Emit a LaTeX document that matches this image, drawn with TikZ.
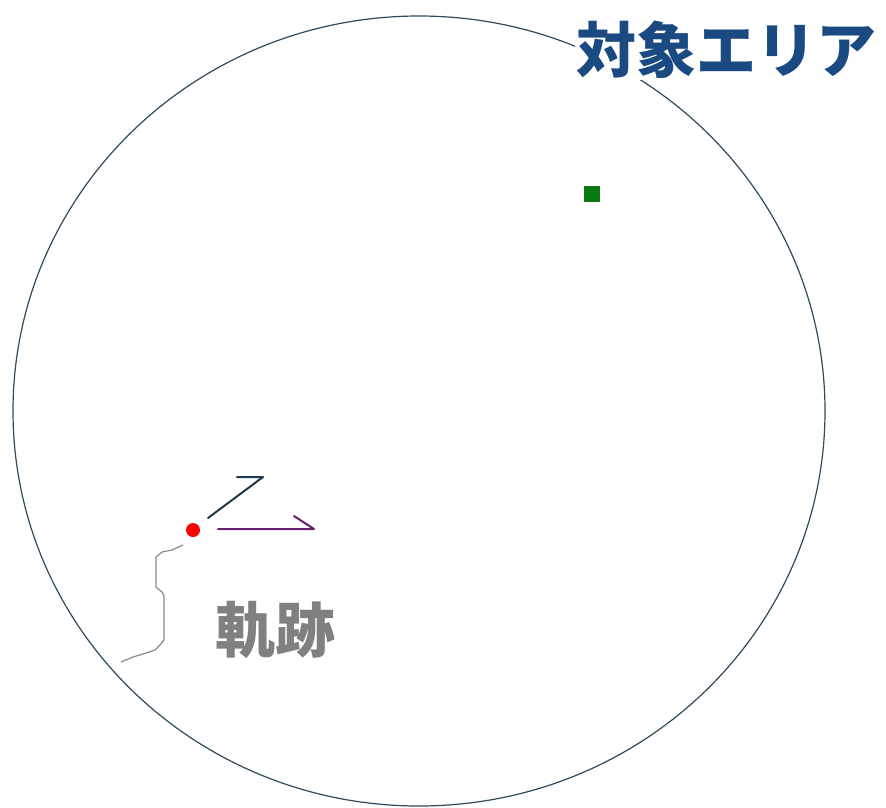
\documentclass[tikz,border=0pt]{standalone}
\usepackage{fontspec}
\newfontfamily\cjk{Noto Sans CJK JP}
\definecolor{rim}{HTML}{2E4A5C}
\definecolor{navy}{HTML}{1B4A82}
\definecolor{trail}{HTML}{8A8A8A}
\definecolor{label}{HTML}{808080}
\definecolor{vio}{HTML}{6A1E6E}
\definecolor{slate}{HTML}{1E3A4C}
\definecolor{goal}{HTML}{0C7A12}
\begin{document}
\begin{tikzpicture}[x=1pt,y=-1pt,
  rimline/.style={draw=rim,line width=1.2pt},
  arrowline/.style={line width=2pt,line cap=round,line join=round},
  tlabel/.style={font=\cjk\bfseries\fontsize{60}{60}\selectfont,inner sep=1pt}]
\useasboundingbox (0,0) rectangle (886,807);
\fill[white] (0,0) rectangle (886,807);
% target area
\draw[rimline] (419,411) ellipse [x radius=406, y radius=395];
\node[tlabel,text=navy,fill=white] (area) at (726,50) {対象エリア};
% goal
\node[fill=goal,minimum size=16pt,inner sep=0pt] (goal) at (592,194) {};
% trajectory
\coordinate (t0) at (183,545);
\coordinate (t1) at (121,662);
\draw[trail,line width=1.2pt,line join=round] (t0) -- (172,550) -- (162,552) -- (156,557) -- (156,587) -- (162,592) -- (164,596) -- (164,640) -- (160,645) -- (155,650) -- (143,654) -- (133,657) -- (t1);
% robot
\node[circle,fill=red,minimum size=14pt,inner sep=0pt] (robot) at (193,530) {};
% purple arrow
\coordinate (p0) at (218,529);
\coordinate (p1) at (314,529);
\coordinate (pb) at (294,516);
\draw[vio,arrowline] (p0) -- (p1) -- (pb);
% slate arrow
\coordinate (s0) at (208,518);
\coordinate (s1) at (263,477);
\coordinate (sb) at (237,477);
\draw[slate,arrowline] (s0) -- (s1) -- (sb);
% label
\node[tlabel,text=label] (trace) at (275,630) {軌跡};
\end{tikzpicture}
\end{document}
